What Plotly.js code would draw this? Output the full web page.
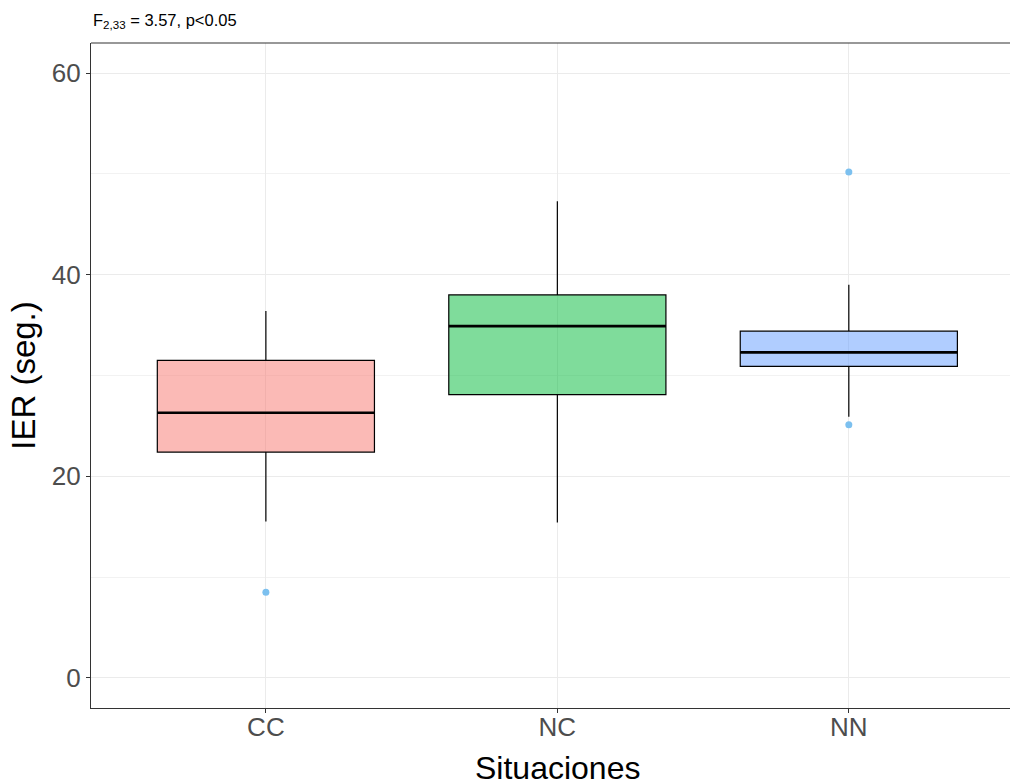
<!DOCTYPE html>
<html>
<head>
<meta charset="utf-8">
<script src="https://cdn.plot.ly/plotly-3.0.1.min.js"></script>
<style>html,body{margin:0;padding:0;overflow:hidden;background:#fff;}</style>
</head>
<body>
<div id="chart" style="width:1011px;height:780px;"></div>
<script>
const categories = ["CC", "NC", "NN"];
const q1 = [22.4, 28.1, 30.9];
const median = [26.3, 34.9, 32.3];
const q3 = [31.5, 38.0, 34.4];
const lowerWhisker = [15.5, 15.4, 25.9];
const upperWhisker = [36.4, 47.3, 39.0];
const outlierCat = ["CC", "NN", "NN"];
const outlierVal = [8.5, 50.2, 25.1];
const fills = ["rgba(248,118,109,0.5)", "rgba(0,186,56,0.5)", "rgba(97,156,255,0.5)"];
const subtitle = "F<sub>2,33</sub> = 3.57, p<0.05";
const xTitle = "Situaciones";
const yTitle = "IER (seg.)";

const boxW = 0.745;
const pos = c => categories.indexOf(c) + 1;
const traces = [];
categories.forEach((c, i) => {
  traces.push({
    type: "box", x: [pos(c)], q1: [q1[i]], median: [median[i]], q3: [q3[i]],
    lowerfence: [lowerWhisker[i]], upperfence: [upperWhisker[i]],
    width: boxW, whiskerwidth: 0, fillcolor: fills[i],
    line: {color: "#000", width: 1.2}, boxpoints: false, hoverinfo: "skip", showlegend: false
  });
  traces.push({
    type: "scatter", mode: "lines", x: [pos(c) - boxW / 2, pos(c) + boxW / 2], y: [median[i], median[i]],
    line: {color: "#000", width: 2.6}, hoverinfo: "skip", showlegend: false
  });
});
traces.push({
  type: "scatter", mode: "markers", x: outlierCat.map(pos), y: outlierVal,
  marker: {color: "#7cc0ef", size: 7}, showlegend: false
});

const layout = {
  width: 1011, height: 780,
  margin: {l: 91, r: 1, t: 43, b: 72},
  paper_bgcolor: "#fff", plot_bgcolor: "#fff",
  font: {family: "Liberation Sans, Arial, sans-serif"},
  xaxis: {
    range: [0.4, 3.553], tickvals: [1, 2, 3], ticktext: categories,
    showgrid: true, gridcolor: "#ebebeb", gridwidth: 1.2, zeroline: false,
    showline: true, linecolor: "#333", linewidth: 1.2,
    ticks: "outside", ticklen: 4, tickcolor: "#333", tickwidth: 1.2,
    ticklabelstandoff: -8,
    tickfont: {size: 26, color: "#4d4d4d"}
  },
  yaxis: {
    range: [-3, 63], tickvals: [0, 20, 40, 60],
    showgrid: true, gridcolor: "#ebebeb", gridwidth: 1.2, zeroline: false,
    minor: {tickvals: [10, 30, 50], showgrid: true, gridcolor: "#f2f2f2", gridwidth: 1},
    showline: true, linecolor: "#333", linewidth: 1.2,
    ticks: "outside", ticklen: 4, tickcolor: "#333", tickwidth: 1.2,
    tickfont: {size: 26, color: "#4d4d4d"},
    title: {text: yTitle, font: {size: 33, color: "#000"}, standoff: 6}
  },
  shapes: [{type: "line", xref: "paper", yref: "paper", x0: 0, x1: 1, y0: 1, y1: 1, line: {color: "#333", width: 1.2}}],
  annotations: [{
    text: subtitle, xref: "paper", yref: "paper", x: 0, y: 1, yshift: 10,
    xanchor: "left", yanchor: "bottom", showarrow: false,
    font: {size: 16.5, color: "#000"}
  }, {
    // x-axis title, centred on the full (partly cropped) panel
    text: xTitle, xref: "x", yref: "paper", x: 2, y: 0, yshift: -60,
    xanchor: "center", yanchor: "middle", showarrow: false,
    font: {size: 32, color: "#000"}
  }]
};
Plotly.newPlot("chart", traces, layout, {displayModeBar: false, staticPlot: true});
</script>
</body>
</html>
